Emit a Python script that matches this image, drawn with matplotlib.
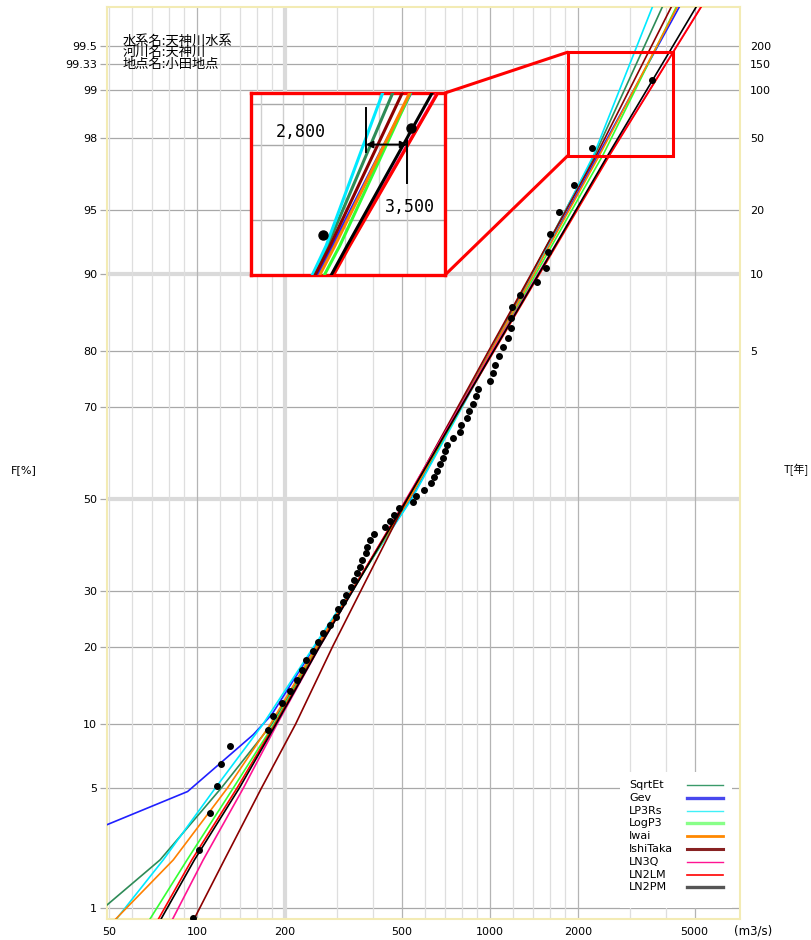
import matplotlib.pyplot as plt
import numpy as np
from statistics import NormalDist
from matplotlib.patches import Rectangle, ConnectionPatch
from matplotlib.lines import Line2D
from matplotlib.ticker import NullLocator

plt.rcParams['font.family'] = ['DejaVu Sans']
JP = ['Noto Sans CJK JP', 'DejaVu Sans']

# annual maximum discharge, ascending (m3/s)
discharge = [97, 102, 111, 117, 121, 130, 175, 182, 195, 208,
             220, 229, 235, 248, 258, 270, 285, 298, 304, 314,
             322, 336, 344, 352, 360, 365, 377, 381, 390, 403,
             440, 455, 470, 490, 545, 560, 595, 627, 644, 661,
             675, 693, 700, 711, 748, 790, 796, 832, 850, 873,
             896, 912, 1000, 1026, 1040, 1073, 1110, 1155, 1177, 1180,
             1186, 1266, 1443, 1552, 1577, 1603, 1716, 1940, 2224, 3564]

# fitted quantiles at these non-exceedance probabilities (%)
probs = [0.8, 2, 5, 10, 20, 50, 80, 90, 97.5, 99.75]
q_sqrtet = [42, 74.8, 121, 180, 258, 525, 1003, 1390, 2282, 3894]
q_lp3rs = [52, 76.7, 115.5, 168, 250, 541, 1023, 1410, 2264, 3600]
q_logp3 = [68, 92.5, 133, 183, 258, 530, 1023, 1435, 2436, 4348]
q_iwai = [51.5, 83, 127, 178, 255, 530, 1009, 1413, 2373, 4383]
q_ishitaka = [96.5, 124, 166, 217, 290, 522, 989, 1384, 2313, 4180]
q_ln3q = [81.5, 105, 144, 187.6, 262, 518, 1020, 1460, 2560, 5280]
q_ln2lm = [72.8, 96, 137, 184.5, 260, 520, 1033, 1478, 2570, 5293]
q_ln2pm = [74.3, 98, 139.5, 186, 262, 522, 1028, 1469, 2534, 5087]
# Gev is bounded below, so its lower tail is evaluated separately
gev_probs = [2.99, 3.2, 4.8, 9.0, 11.0, 20, 50, 80, 90, 97.5, 99.75]
q_gev = [45, 49.5, 92.9, 155.7, 180, 252, 538, 1012, 1409, 2344, 4454]

methods = ['SqrtEt', 'Gev', 'LP3Rs', 'LogP3', 'Iwai', 'IshiTaka', 'LN3Q', 'LN2LM', 'LN2PM']
colors = ['#2e8b57', '#2020ff', '#00eaff', '#33ff33', '#ff8000', '#8b0000', '#ff1493', '#ff0000', '#000000']
legend_colors = ['#3a9a6a', '#4848ee', '#40f0f8', '#88ff88', '#ff8800', '#882222', '#ff1493', '#ff0000', '#555555']
legend_widths = [1.0, 2.4, 1.0, 2.4, 2.0, 2.2, 1.0, 1.2, 2.4]

f_ticks = [1, 5, 10, 20, 30, 50, 70, 80, 90, 95, 98, 99, 100 * (1 - 1 / 150), 99.5]
f_labels = ['1', '5', '10', '20', '30', '50', '70', '80', '90', '95', '98', '99', '99.33', '99.5']
return_periods = [5, 10, 20, 50, 100, 150, 200]
x_ticks = [50, 100, 200, 500, 1000, 2000, 5000]

nd = NormalDist()


def zf(p):
    return nd.inv_cdf(np.clip(p, 1e-6, 100 - 1e-6) / 100.0)


def zlist(ps):
    return [zf(p) for p in ps]


W, H = 812, 940


def frac(x0, y0, x1, y1):
    return [x0 / W, 1 - y1 / H, (x1 - x0) / W, (y1 - y0) / H]


curves = [(probs, q_sqrtet), (gev_probs, q_gev), (probs, q_lp3rs), (probs, q_logp3),
          (probs, q_iwai), (probs, q_ishitaka), (probs, q_ln3q), (probs, q_ln2lm),
          (probs, q_ln2pm)]

n = len(discharge)
plot_pos = [100 * (i - 0.4) / (n + 0.2) for i in range(1, n + 1)]

fig = plt.figure(figsize=(W / 100, H / 100), dpi=100)
ax = fig.add_axes(frac(107, 7, 740, 919))
ax.set_xscale('log')
ax.set_xlim(49.3, 7140)
ax.set_ylim(-2.39, 2.80)

# probability grid
for p in f_ticks:
    if p in (50, 90):
        ax.axhline(zf(p), color='#dadada', lw=3, zorder=0)
    else:
        ax.axhline(zf(p), color='#a8a8a8', lw=0.9, zorder=0)
minor_x = [50, 60, 70, 80, 90, 120, 140, 160, 180, 300, 400, 600, 700, 800, 900,
           1200, 1400, 1600, 1800, 3000, 4000]
for v in minor_x:
    ax.axvline(v, color='#dedede', lw=0.9, zorder=0)
for v in [100, 500, 1000, 2000, 5000]:
    ax.axvline(v, color='#b4b4b4', lw=0.9, zorder=0)
ax.axvline(200, color='#dadada', lw=3, zorder=0)

for (ps, qs), c in zip(curves, colors):
    ax.plot(qs, zlist(ps), color=c, lw=1.2, zorder=3)
ax.plot(discharge, zlist(plot_pos), 'o', color='black', ms=4, zorder=5)

ax.xaxis.set_minor_locator(NullLocator())
ax.yaxis.set_minor_locator(NullLocator())
ax.set_xticks(x_ticks)
ax.set_xticklabels([str(v) for v in x_ticks])
ax.set_yticks(zlist(f_ticks))
ax.set_yticklabels(f_labels)
ax.tick_params(axis='x', length=0, pad=6, labelsize=8)
ax.tick_params(axis='y', length=5, width=0.9, color='#a8a8a8', pad=2, labelsize=8)
for s in ax.spines.values():
    s.set_color('#f3ebb4')
    s.set_linewidth(1.5)

ax2 = ax.twinx()
ax2.set_ylim(ax.get_ylim())
ax2.set_yticks(zlist([100 * (1 - 1 / t) for t in return_periods]))
ax2.set_yticklabels([str(t) for t in return_periods])
ax2.tick_params(axis='y', length=0, pad=7, labelsize=8)
ax2.yaxis.set_minor_locator(NullLocator())
for s in ax2.spines.values():
    s.set_visible(False)

fig.text(24 / W, 1 - 470 / H, 'F[%]', fontsize=8, ha='center', va='center')
fig.text(796 / W, 1 - 470 / H, 'T[年]', fontsize=8, ha='center', va='center', family=JP)
fig.text(753 / W, 1 - 931 / H, '(m3/s)', fontsize=8.5, ha='center', va='center')

for i, s in enumerate(['水系名:天神川水系', '河川名:天神川', '地点名:小田地点']):
    fig.text(123 / W, 1 - (41 + 11.8 * i) / H, s, fontsize=9.5, ha='left', va='center',
             family=JP)

# legend: labels on the left, sample lines on the right
ax.add_patch(Rectangle((620 / W, 1 - 908 / H), 112 / W, 136 / H, transform=fig.transFigure,
                       facecolor='white', edgecolor='none', zorder=6))
for i, (name, c, w) in enumerate(zip(methods, legend_colors, legend_widths)):
    y = 1 - (785 + 12.8 * i) / H
    fig.text(629 / W, y, name, fontsize=8, ha='left', va='center', zorder=7)
    fig.add_artist(Line2D([687 / W, 723 / W], [y, y], color=c, lw=w, zorder=7))

# enlarged view of the upper tail
rect_x = (1842, 4227)
rect_f = (97.46, 99.45)
ax.add_patch(Rectangle((rect_x[0], zf(rect_f[0])), rect_x[1] - rect_x[0],
                       zf(rect_f[1]) - zf(rect_f[0]), fill=False, edgecolor='red',
                       lw=2.2, zorder=8))

axins = fig.add_axes(frac(251, 93, 445, 275))
axins.set_xscale('log')
axins.set_xlim(1514, 4280)
axins.set_ylim(1.854, 2.513)
for p in [98, 99, 100 * (1 - 1 / 150)]:
    axins.axhline(zf(p), color='#a8a8a8', lw=1, zorder=0)
for v in [1600, 1800, 2000, 2500, 3000, 3500]:
    axins.axvline(v, color='#cfcfcf', lw=1, zorder=0)
for (ps, qs), c in zip(curves, colors):
    axins.plot(qs, zlist(ps), color=c, lw=2.2, zorder=3)
axins.plot(discharge, zlist(plot_pos), 'o', color='black', ms=6.5, zorder=5)
axins.set_xticks([])
axins.set_yticks([])
axins.xaxis.set_minor_locator(NullLocator())
for s in axins.spines.values():
    s.set_color('red')
    s.set_linewidth(2.4)

q_low, q_high = 2800, 3500
axins.plot([q_low, q_low], [2.299, 2.459], color='black', lw=1.4, zorder=6)
axins.plot([q_high, q_high], [2.187, 2.343], color='black', lw=1.4, zorder=6)
axins.annotate('', xy=(q_low, zf(99)), xytext=(q_high, zf(99)),
               arrowprops=dict(arrowstyle='<|-|>', color='black', lw=1.4,
                               shrinkA=0, shrinkB=0, mutation_scale=10), zorder=6)
axins.text(0.255, 0.785, f'{q_low:,}', transform=axins.transAxes, fontsize=12,
           ha='center', va='center', family='DejaVu Sans Mono')
axins.text(0.82, 0.375, f'{q_high:,}', transform=axins.transAxes, fontsize=12,
           ha='center', va='center', family='DejaVu Sans Mono')

for xy_a, xy_b in [((rect_x[0], zf(rect_f[1])), (1, 1)), ((rect_x[0], zf(rect_f[0])), (1, 0))]:
    con = ConnectionPatch(xyA=xy_a, coordsA=ax.transData, xyB=xy_b, coordsB=axins.transAxes,
                          color='red', lw=2.2, zorder=9)
    fig.add_artist(con)

fig.savefig('out.png', dpi=100)
